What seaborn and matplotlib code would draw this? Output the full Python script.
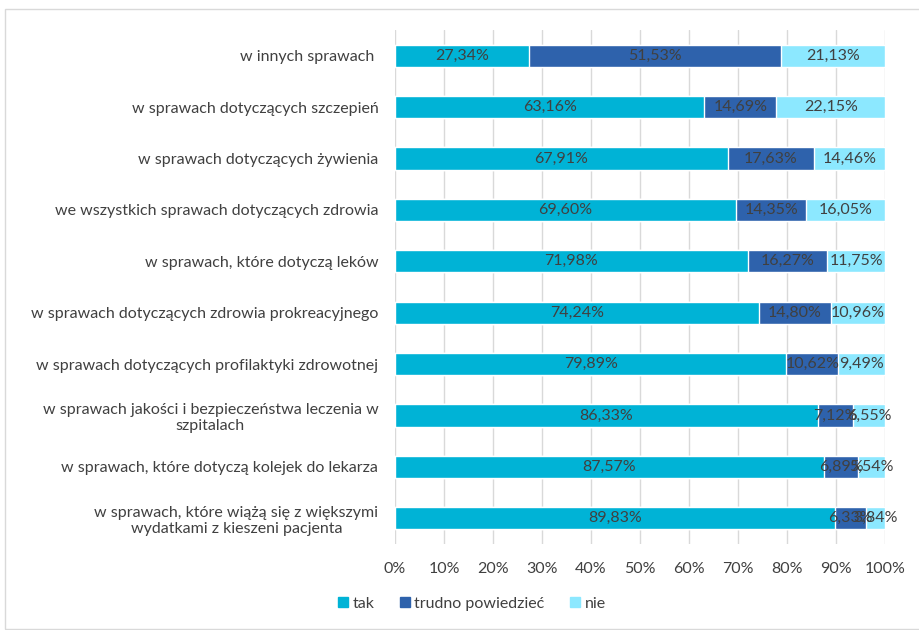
import matplotlib
matplotlib.use("Agg")
import matplotlib.pyplot as plt
import seaborn as sns
import pandas as pd
import numpy as np
from matplotlib.patches import Rectangle

categories = [
    "w innych sprawach ",
    "w sprawach dotyczących szczepień",
    "w sprawach dotyczących żywienia",
    "we wszystkich sprawach dotyczących zdrowia",
    "w sprawach, które dotyczą leków",
    "w sprawach dotyczących zdrowia prokreacyjnego",
    "w sprawach dotyczących profilaktyki zdrowotnej",
    "w sprawach jakości i bezpieczeństwa leczenia w\nszpitalach",
    "w sprawach, które dotyczą kolejek do lekarza",
    "w sprawach, które wiążą się z większymi\nwydatkami z kieszeni pacjenta",
]
tak = [27.34, 63.16, 67.91, 69.60, 71.98, 74.24, 79.89, 86.33, 87.57, 89.83]
trudno = [51.53, 14.69, 17.63, 14.35, 16.27, 14.80, 10.62, 7.12, 6.89, 6.33]
nie = [21.13, 22.15, 14.46, 16.05, 11.75, 10.96, 9.49, 6.55, 5.54, 3.84]

series_names = ["tak", "trudno powiedzieć", "nie"]
colors = ["#00B3D6", "#2E62AC", "#8CE8FF"]
text_color = "#404040"
fs = 11.5

sns.set_theme(style="white")
plt.rcParams["font.family"] = ["Lato", "DejaVu Sans"]

df = pd.DataFrame({"kat": categories, "tak": tak, "trudno": trudno, "nie": nie})
df["c1"] = df["tak"]
df["c2"] = df["tak"] + df["trudno"]
df["c3"] = df["c2"] + df["nie"]

fig = plt.figure(figsize=(9.19, 6.3), dpi=100)
ax = fig.add_axes([395 / 919, 1 - 544 / 630, 490 / 919, 514 / 630])

# stacked layers drawn back to front from cumulative sums
for col, color in zip(["c3", "c2", "c1"], colors[::-1]):
    sns.barplot(data=df, y="kat", x=col, order=categories, color=color,
                orient="h", width=0.43, saturation=1, ax=ax, zorder=2)

# segment value labels
for i, row in df.iterrows():
    lefts = [0, row["c1"], row["c2"]]
    vals = [row["tak"], row["trudno"], row["nie"]]
    for l, v in zip(lefts, vals):
        ax.text(l + v / 2, i, f"{v:.2f}%".replace(".", ","), ha="center",
                va="center", fontsize=fs, color=text_color, zorder=3)

ax.set_xlim(0, 100)
ax.set_xticks(np.arange(0, 101, 10))
ax.set_xticklabels([f"{t}%" for t in range(0, 101, 10)], fontsize=fs, color=text_color)
ax.tick_params(axis="y", labelsize=fs, labelcolor=text_color, length=0, pad=12)
ax.tick_params(axis="x", length=0, pad=13)
for lab in ax.get_yticklabels():
    lab.set_multialignment("center")
ax.set_ylabel("")
ax.set_xlabel("")
ax.grid(axis="x", color="#D9D9D9", linewidth=1, zorder=0)
ax.set_axisbelow(True)
for s in ax.spines.values():
    s.set_visible(False)

handles = [Rectangle((0, 0), 1, 1, color=c) for c in colors]
fig.legend(handles, series_names, loc="center", bbox_to_anchor=(472 / 919, 1 - 604 / 630),
           ncol=3, frameon=False, fontsize=fs, handlelength=0.6, handleheight=0.6,
           handletextpad=0.3, columnspacing=1.6, labelcolor=text_color)

fig.patches.append(Rectangle((5 / 919, 0.002), 1.0, 1 - 9 / 630 - 0.002,
                             transform=fig.transFigure, fill=False,
                             edgecolor="#D9D9D9", linewidth=1))

fig.savefig("out.png", dpi=100)
